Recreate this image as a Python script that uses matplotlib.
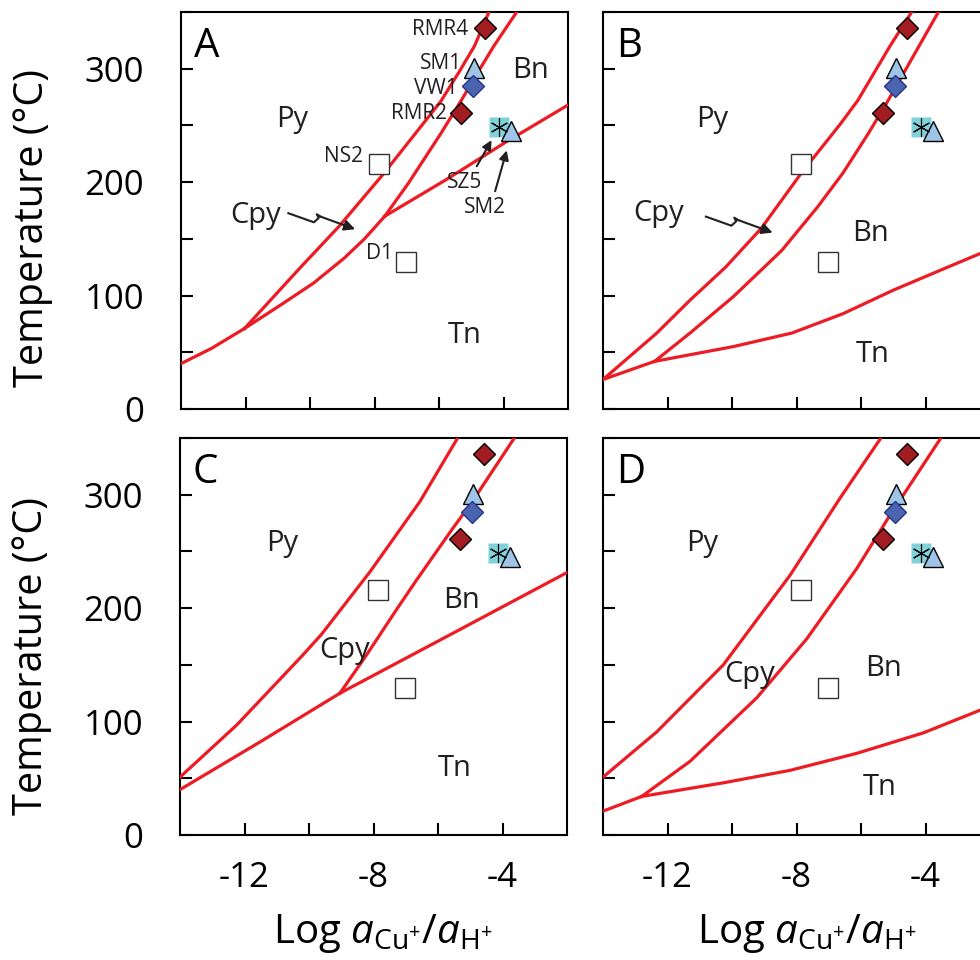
import numpy as np
import matplotlib
matplotlib.use("Agg")
import matplotlib.pyplot as plt

plt.rcParams['font.family'] = ['Open Sans', 'DejaVu Sans']
plt.rcParams['mathtext.fontset'] = 'custom'
plt.rcParams['mathtext.rm'] = 'Open Sans'
plt.rcParams['mathtext.it'] = 'Open Sans:italic'
plt.rcParams['axes.unicode_minus'] = False

RED = '#ed1c24'
INK = '#231f20'

# --- samples (same in every panel) ---
sample_names = ['RMR4', 'SM1', 'VW1', 'RMR2', 'SZ5', 'SM2', 'NS2', 'D1']
sample_logcu = [-4.56, -4.90, -4.94, -5.32, -4.15, -3.76, -7.87, -7.03]
sample_temp = [336, 301, 285, 261, 249, 245, 216, 130]
sample_kind = ['rdiamond', 'triangle', 'bdiamond', 'rdiamond', 'cyan', 'triangle', 'open', 'open']

# --- phase boundaries (log aCu+/aH+, T in C) ---
# Panel A
a_tn_py_x = [-14.0, -13.05, -12.03]
a_tn_py_y = [40, 53.5, 71]
a_py_cpy_x = [-12.03, -10.29, -9.1, -7.76, -6.73, -5.95, -5.38, -4.9, -4.45]
a_py_cpy_y = [71, 125, 161, 206, 243, 271, 297, 320, 350]
a_cpy_tn_x = [-12.03, -10.84, -9.89, -8.94, -8.31, -7.68]
a_cpy_tn_y = [71, 93, 111, 133, 150, 170]
a_cpy_bn_x = [-7.68, -6.95, -5.94, -5.31, -4.94, -4.3, -3.59]
a_cpy_bn_y = [170, 199, 243, 272, 290, 320, 350]
a_bn_tn_x = [-7.68, -5.79, -3.89, -2.0]
a_bn_tn_y = [170, 202, 236, 268]

# Panel B
b_tn_py_x = [-14.0, -12.4]
b_tn_py_y = [26, 42]
b_py_cpy_x = [-14.0, -12.33, -11.3, -10.2, -9.1, -7.85, -6.62, -6.1, -5.1, -4.43]
b_py_cpy_y = [26, 67, 96, 125, 159, 208, 252, 272, 320, 350]
b_cpy_bn_x = [-12.4, -11.3, -9.96, -8.45, -7.35, -6.56, -5.77, -5.2, -4.6, -4.1, -3.6]
b_cpy_bn_y = [42, 67, 99, 140, 178, 208, 243, 270, 300, 325, 350]
b_bn_tn_x = [-12.4, -9.96, -8.14, -6.56, -4.98, -3.4, -2.31, -2.0]
b_bn_tn_y = [42, 55, 67, 84, 105, 124, 137, 140]

# Panel C
c_tn_py_x = [-14.0, -11.52, -9.04]
c_tn_py_y = [40, 82, 125]
c_py_cpy_x = [-14.0, -12.24, -10.18, -9.61, -8.11, -6.56, -5.37]
c_py_cpy_y = [51, 97, 159, 177, 232, 294, 351]
c_cpy_bn_x = [-9.04, -8.21, -7.28, -6.66, -5.55, -4.96, -3.61]
c_cpy_bn_y = [125, 159, 199, 225, 270, 293, 351]
c_bn_tn_x = [-9.04, -5.53, -1.96]
c_bn_tn_y = [125, 178, 232]

# Panel D
d_tn_py_x = [-14.0, -12.8]
d_tn_py_y = [21, 34]
d_py_cpy_x = [-14.0, -12.33, -10.27, -8.2, -6.65, -5.36]
d_py_cpy_y = [51, 91, 150, 229, 297, 351]
d_cpy_bn_x = [-12.8, -11.3, -9.23, -7.68, -6.13, -5.1, -3.5]
d_cpy_bn_y = [34, 65, 121, 173, 235, 282, 351]
d_bn_tn_x = [-12.8, -10.27, -8.2, -6.13, -4.07, -2.31, -2.0]
d_bn_tn_y = [34, 46, 57, 72, 90, 110, 114]

panels = [
    ('A', [(a_tn_py_x, a_tn_py_y), (a_py_cpy_x, a_py_cpy_y), (a_cpy_tn_x, a_cpy_tn_y),
           (a_cpy_bn_x, a_cpy_bn_y), (a_bn_tn_x, a_bn_tn_y)]),
    ('B', [(b_tn_py_x, b_tn_py_y), (b_py_cpy_x, b_py_cpy_y),
           (b_cpy_bn_x, b_cpy_bn_y), (b_bn_tn_x, b_bn_tn_y)]),
    ('C', [(c_tn_py_x, c_tn_py_y), (c_py_cpy_x, c_py_cpy_y),
           (c_cpy_bn_x, c_cpy_bn_y), (c_bn_tn_x, c_bn_tn_y)]),
    ('D', [(d_tn_py_x, d_tn_py_y), (d_py_cpy_x, d_py_cpy_y),
           (d_cpy_bn_x, d_cpy_bn_y), (d_bn_tn_x, d_bn_tn_y)]),
]

# field labels (center x, baseline y) per panel
field_labels = {
    'A': {'Py': (-10.54, 249), 'Cpy': (-11.69, 164), 'Bn': (-3.15, 292), 'Tn': (-5.19, 58)},
    'B': {'Py': (-10.62, 249), 'Cpy': (-12.29, 166), 'Bn': (-5.72, 148), 'Tn': (-5.63, 41)},
    'C': {'Py': (-10.82, 250), 'Cpy': (-8.88, 156), 'Bn': (-5.27, 200), 'Tn': (-5.47, 52)},
    'D': {'Py': (-10.91, 250), 'Cpy': (-9.46, 135), 'Bn': (-5.31, 140), 'Tn': (-5.43, 35)},
}

# squiggly Cpy arrow (panels A and B only)
squiggle_x = [-10.67, -9.88, -9.73, -9.79, -9.67]
squiggle_y = [172.6, 164.6, 168.4, 171.7, 169.6]
squiggle_tip = (-8.6, 158.5)
squiggle_shift = {'A': (0.0, 0.0), 'B': (-0.14, -3.0)}

fig = plt.figure(figsize=(9.8, 9.6), dpi=100)
W, H = 387 / 980, 397 / 960
pos = {'A': [181 / 980, 551 / 960, W, H], 'B': [603 / 980, 551 / 960, W, H],
       'C': [180 / 980, 125 / 960, W, H], 'D': [603 / 980, 125 / 960, W, H]}


def draw_samples(ax):
    for x, y, k in zip(sample_logcu, sample_temp, sample_kind):
        if k == 'rdiamond':
            ax.plot(x, y, marker='D', ms=11, mfc='#a11d21', mec='black', mew=1, zorder=5)
        elif k == 'bdiamond':
            ax.plot(x, y, marker='D', ms=11, mfc='#4a64b0', mec='#26348a', mew=1, zorder=5)
        elif k == 'triangle':
            ax.plot(x, y, marker='^', ms=15, mfc='#9ec5e8', mec='black', mew=1, zorder=5)
        elif k == 'cyan':
            ax.plot(x, y, marker='s', ms=14.5, mfc='#80d2da', mec='none', zorder=4)
            ax.plot(x, y, marker=(6, 2, 0), ms=13, mec='black', mew=0.8, zorder=6)
        else:
            ax.plot(x, y, marker='s', ms=14.5, mfc='white', mec='#333333', mew=1, zorder=5)


for letter, lines in panels:
    ax = fig.add_axes(pos[letter])
    for xs, ys in lines:
        ax.plot(xs, ys, color=RED, lw=2.3, solid_joinstyle='round', zorder=3)
    draw_samples(ax)
    ax.set_xlim(-14, -2)
    ax.set_ylim(0, 350)
    ax.set_xticks(np.arange(-12, -3, 2))
    ax.set_yticks(np.arange(0, 351, 50))
    ax.set_xticklabels(['-12', '', '-8', '', '-4'] if letter in 'CD' else [])
    ax.set_yticklabels(['0', '', '100', '', '200', '', '300', ''] if letter in 'AC' else [])
    ax.tick_params(direction='in', length=8.5, width=1.5, labelsize=25, color='black')
    ax.tick_params(axis='y', pad=26.5)
    ax.tick_params(axis='x', pad=19)
    for sp in ax.spines.values():
        sp.set_linewidth(1.5)
    ax.text(0.033, 0.887, letter, transform=ax.transAxes, fontsize=29, va='baseline', ha='left')
    for name, (lx, ly) in field_labels[letter].items():
        ax.text(lx, ly, name, fontsize=21, ha='center', va='baseline', color=INK, zorder=7)
    if letter in squiggle_shift:
        dx, dy = squiggle_shift[letter]
        sx = [v + dx for v in squiggle_x]
        sy = [v + dy for v in squiggle_y]
        ax.plot(sx, sy, color=INK, lw=1.5, solid_joinstyle='round', zorder=6)
        ax.annotate('', xy=(squiggle_tip[0] + dx, squiggle_tip[1] + dy), xytext=(sx[-1], sy[-1]),
                    arrowprops=dict(arrowstyle='-|>', color=INK, lw=1.5,
                                    mutation_scale=16, shrinkA=0, shrinkB=0), zorder=6)
    if letter == 'A':
        # sample names
        for name, (lx, ly, ha) in {'RMR4': (-5.09, 330, 'right'), 'SM1': (-5.30, 300, 'right'),
                                   'VW1': (-5.43, 278, 'right'), 'RMR2': (-5.76, 256, 'right'),
                                   'NS2': (-8.37, 218, 'right'), 'D1': (-7.44, 132, 'right'),
                                   'SZ5': (-5.19, 195, 'center'), 'SM2': (-4.58, 173, 'center')}.items():
            ax.text(lx, ly, name, fontsize=15, ha=ha, va='baseline', color=INK, zorder=7)
        ax.annotate('', xy=(-4.37, 237), xytext=(-4.83, 214),
                    arrowprops=dict(arrowstyle='-|>', color=INK, lw=1.5,
                                    mutation_scale=14, shrinkA=0, shrinkB=0), zorder=6)
        ax.annotate('', xy=(-3.9, 228), xytext=(-4.26, 192),
                    arrowprops=dict(arrowstyle='-|>', color=INK, lw=1.5,
                                    mutation_scale=14, shrinkA=0, shrinkB=0), zorder=6)

# axis titles
xlab = r'Log $a_{\mathrm{Cu^{+}}}/a_{\mathrm{H^{+}}}$'
fig.text(383 / 980, 17 / 960, xlab, fontsize=29, ha='center', va='baseline')
fig.text(807 / 980, 17 / 960, xlab, fontsize=29, ha='center', va='baseline')
fig.text(33 / 980, 1 - 228 / 960, 'Temperature (°C)', fontsize=28.5, rotation=90,
         ha='center', va='center')
fig.text(32 / 980, 1 - 656 / 960, 'Temperature (°C)', fontsize=28.5, rotation=90,
         ha='center', va='center')

fig.savefig('out.png', dpi=100)
